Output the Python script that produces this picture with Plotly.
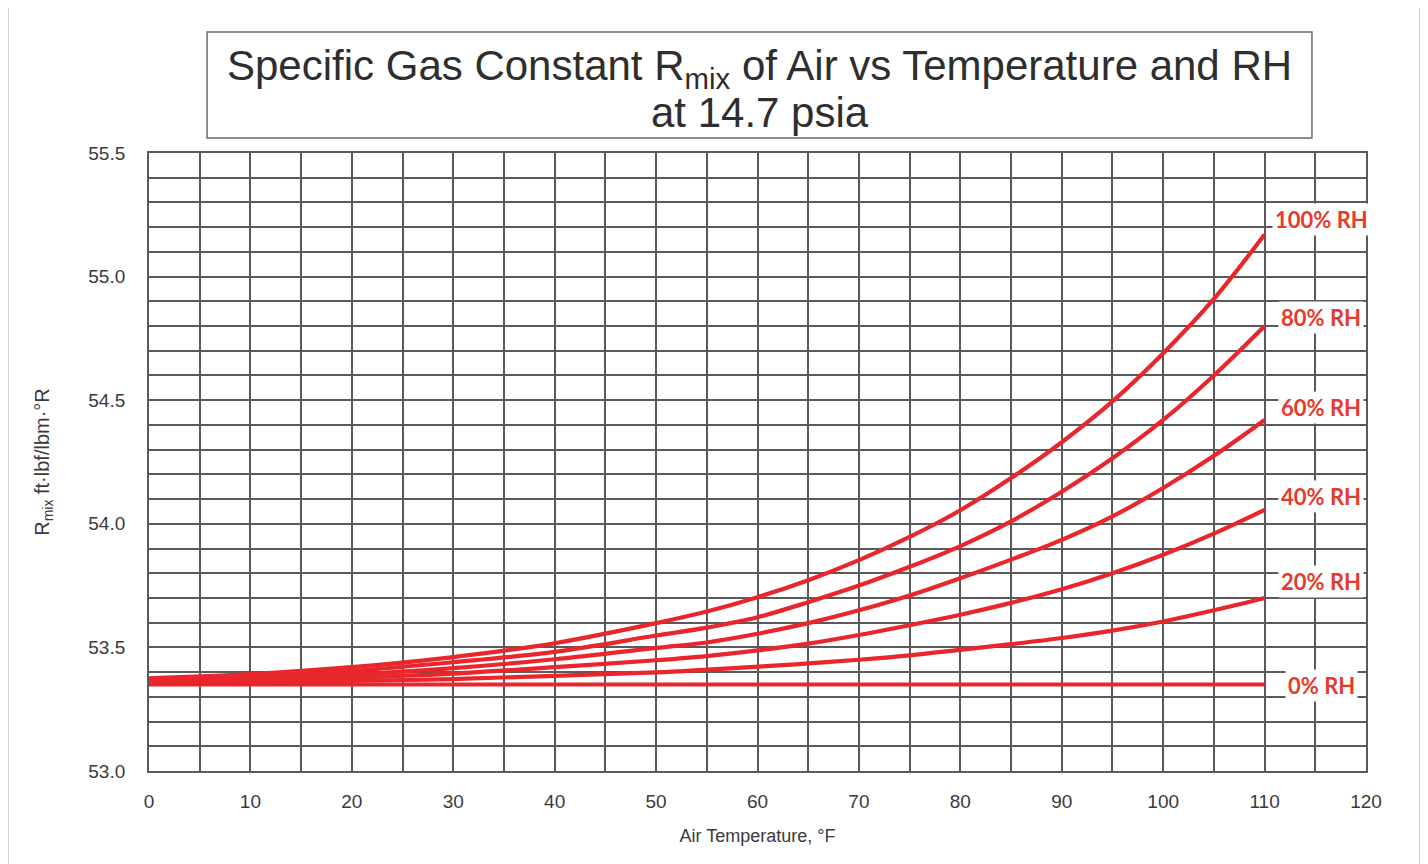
import plotly.graph_objects as go

# Air temperature, °F
temps = [0, 10, 20, 30, 40, 50, 55, 60, 65, 70, 75, 80, 85, 90, 95, 100, 105, 110]

# R_mix, ft·lbf/lbm·°R
rh100 = [53.375, 53.392, 53.42, 53.461, 53.517, 53.598, 53.645, 53.703, 53.772, 53.853,
         53.947, 54.055, 54.185, 54.33, 54.495, 54.69, 54.91, 55.17]
rh80 = [53.37, 53.383, 53.405, 53.44, 53.482, 53.548, 53.58, 53.622, 53.683, 53.75,
        53.826, 53.91, 54.01, 54.13, 54.265, 54.42, 54.60, 54.80]
rh60 = [53.365, 53.375, 53.39, 53.416, 53.452, 53.498, 53.52, 53.555, 53.598, 53.65,
        53.71, 53.78, 53.855, 53.935, 54.03, 54.145, 54.275, 54.42]
rh40 = [53.36, 53.367, 53.378, 53.394, 53.42, 53.448, 53.465, 53.488, 53.515, 53.55,
        53.59, 53.632, 53.68, 53.735, 53.80, 53.875, 53.96, 54.056]
rh20 = [53.355, 53.358, 53.364, 53.372, 53.385, 53.399, 53.41, 53.422, 53.435, 53.45,
        53.468, 53.49, 53.513, 53.538, 53.568, 53.605, 53.65, 53.70]
rh0 = [53.35] * len(temps)

series = [rh0, rh20, rh40, rh60, rh80, rh100]
labels = ["0% RH", "20% RH", "40% RH", "60% RH", "80% RH", "100% RH"]
label_y = [53.345, 53.768, 54.11, 54.47, 54.835, 55.232]

title_lines = ["Specific Gas Constant R<sub>mix</sub> of Air vs Temperature and RH",
               "at 14.7 psia"]

x_ticks = list(range(0, 121, 10))
y_ticks = [53.0, 53.5, 54.0, 54.5, 55.0, 55.5]

RED = "#e8262b"
LABEL_RED = "#e53b2c"
GRID = "#5a5a5a"
TXT = "#3a3a3a"
FONT = "Liberation Sans, Arial, sans-serif"

fig = go.Figure()
for vals, name in zip(series, labels):
    fig.add_trace(go.Scatter(x=temps, y=vals, mode="lines", name=name,
                             line=dict(color=RED, width=4.2, shape="spline"),
                             showlegend=False, hoverinfo="x+y"))

for name, yv in zip(labels, label_y):
    fig.add_annotation(x=115.6, y=yv, xref="x", yref="y", text="<b>" + name + "</b>",
                       showarrow=False, xanchor="center", yanchor="middle",
                       font=dict(family="Lato, Open Sans, sans-serif", size=22, color=LABEL_RED),
                       bgcolor="white", borderpad=2)

# Title box and text
fig.add_shape(type="rect", xref="paper", yref="paper",
              x0=0.0477, x1=0.9556, y0=1.0243, y1=1.1958,
              line=dict(color="#6a6a6a", width=1.5), fillcolor="white", layer="above")
for line_text, yp in zip(title_lines, [1.137, 1.066]):
    fig.add_annotation(xref="paper", yref="paper", x=0.502, y=yp, text=line_text,
                       showarrow=False, xanchor="center", yanchor="middle",
                       font=dict(family=FONT, size=42, color="#2e2e2e"))

# Outer frame
fig.add_shape(type="rect", xref="paper", yref="paper",
              x0=-0.1159, x1=1.0444, y0=-0.17, y1=1.2362,
              line=dict(color="#9a9a9a", width=1), layer="below")

fig.update_layout(
    width=1420, height=856,
    margin=dict(l=141, r=62, t=145, b=93),
    paper_bgcolor="white", plot_bgcolor="white",
    font=dict(family=FONT, color=TXT),
    xaxis=dict(range=[0, 120], tickvals=x_ticks, ticks="", showgrid=True,
               gridcolor=GRID, gridwidth=1.7, zeroline=False,
               showline=True, linecolor=GRID, linewidth=1.9, mirror=True,
               tickfont=dict(size=19, color=TXT), ticklabelstandoff=12,
               minor=dict(dtick=5, showgrid=True, gridcolor=GRID, gridwidth=1.7),
               title=dict(text="Air Temperature, °F", font=dict(size=18, color=TXT), standoff=19)),
    yaxis=dict(range=[53.0, 55.5], tickvals=y_ticks, tickformat=".1f", ticks="",
               showgrid=True, gridcolor=GRID, gridwidth=1.7, zeroline=False,
               showline=True, linecolor=GRID, linewidth=1.9, mirror=True,
               tickfont=dict(size=19, color=TXT), ticklabelstandoff=18,
               minor=dict(dtick=0.1, showgrid=True, gridcolor=GRID, gridwidth=1.7),
               title=dict(text="R<sub>mix</sub> ft·lbf/lbm·°R", font=dict(size=20, color=TXT), standoff=33)),
)

fig.write_html("out.html")
